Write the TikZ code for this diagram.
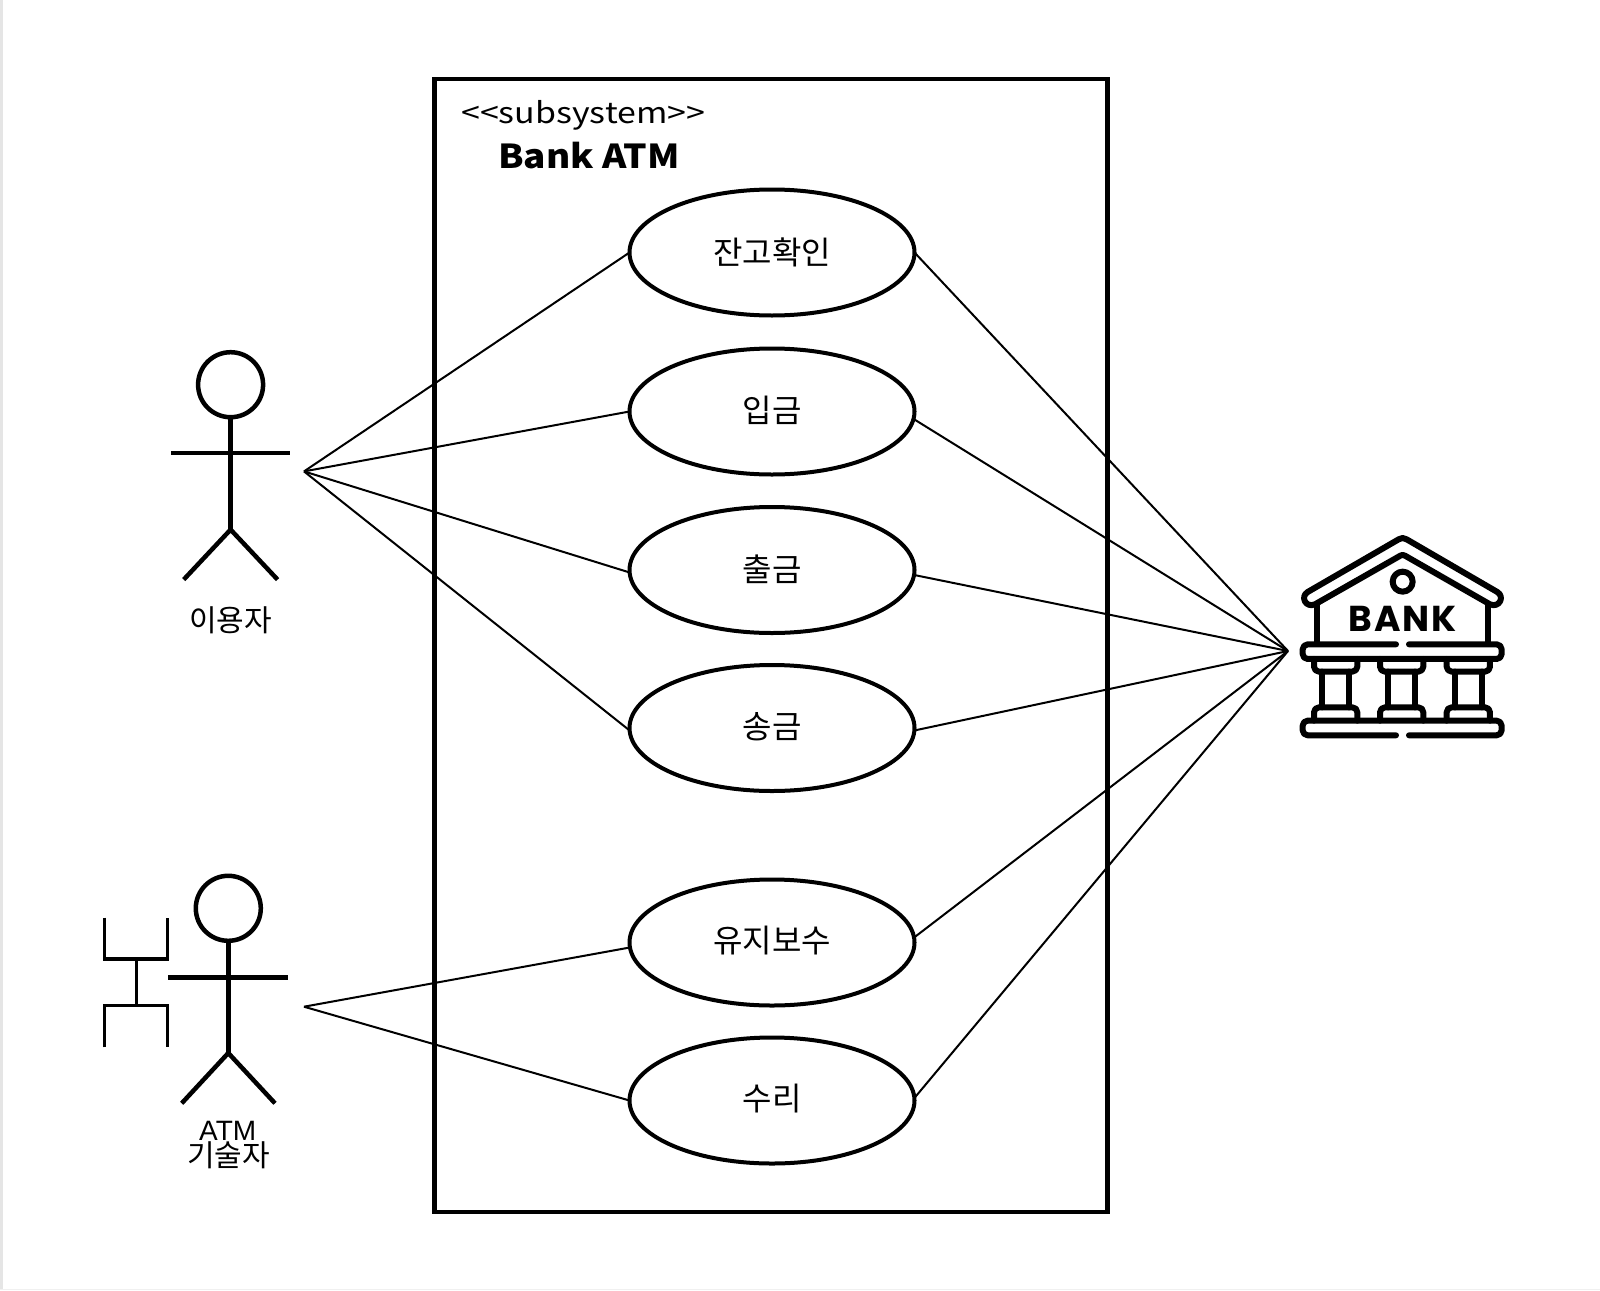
\documentclass[tikz,border=0pt]{standalone}
\usepackage{fontspec}
\usetikzlibrary{shapes.geometric}
\setmainfont{Noto Sans CJK KR}
\newfontfamily\latinf{Liberation Sans}
\newfontfamily\bankf[LetterSpace=5]{Poppins}
\newfontfamily\stereof[FakeStretch=1.17]{Noto Sans CJK KR}
\newfontfamily\titlef[FakeStretch=1.12]{Noto Sans CJK KR}
\tikzset{
 x=1pt,y=-1pt,
 usecase/.style={draw=black,line width=4pt,fill=white,ellipse,minimum width=285pt,minimum height=126pt,inner sep=0pt,outer sep=0pt},
 assoc/.style={draw=black,line width=2pt,line join=miter},
 actorline/.style={draw=black,line width=4.5pt},
 iconline/.style={draw=black,line width=6pt,line cap=round,line join=round,rounded corners=5pt},
 uclabel/.style={font=\fontsize{32}{36}\selectfont},
 actorlabel/.style={font=\fontsize{30}{34}\selectfont,inner sep=0pt},
}
\begin{document}
\begin{tikzpicture}
\useasboundingbox (0,0) rectangle (1600,1290);
\fill[white] (0,0) rectangle (1600,1290);
\fill[black!10] (0,0) rectangle (3,1290);
\fill[black!6] (0,1289) rectangle (1600,1290);
% system box
\node[draw=black,line width=4.4pt,minimum width=673pt,minimum height=1133pt,inner sep=0pt,outer sep=0pt] (sys) at (771,645.5) {};
\node[anchor=west,inner sep=0pt,font=\fontsize{29}{34}\selectfont\stereof] (st) at (461,115) {{<}{<}subsystem{>}{>}};
\node[anchor=west,inner sep=0pt,font=\fontsize{33}{38}\selectfont\titlef\bfseries] (sn) at (498,156) {Bank ATM};
% use cases
\node[usecase] (e1) at (772,252.5) {};
\node[usecase] (e2) at (772,411.5) {};
\node[usecase] (e3) at (772,570) {};
\node[usecase] (e4) at (772,728) {};
\node[usecase] (e5) at (772,942.5) {};
\node[usecase] (e6) at (772,1100.5) {};
\node[uclabel] (t1) at (772,252) {잔고확인};
\node[uclabel] (t2) at (772,410) {입금};
\node[uclabel] (t3) at (772,569) {출금};
\node[uclabel] (t4) at (772,727) {송금};
\node[uclabel] (t5) at (772,941) {유지보수};
\node[uclabel] (t6) at (772,1099) {수리};
% free ends
\coordinate (u1) at (304,471.4);
\coordinate (u2) at (304,1006.7);
\coordinate (bk) at (1288,651);
% connectors
\draw[assoc] (u1) -- (e1.west);
\draw[assoc] (u1) -- (e2.west);
\draw[assoc] (u1) -- (e3.181);
\draw[assoc] (u1) -- (e4.181);
\draw[assoc] (u2) -- (e5.182);
\draw[assoc] (u2) -- (e6.west);
\draw[assoc] (bk) -- (e1.east);
\draw[assoc] (bk) -- (e2.-3);
\draw[assoc] (bk) -- (e3.-2);
\draw[assoc] (bk) -- (e4.-1);
\draw[assoc] (bk) -- (e5.2);
\draw[assoc] (bk) -- (e6.1.5);
% actor 1
\node[circle,draw=black,line width=4.5pt,minimum size=65pt,inner sep=0pt,outer sep=0pt] (h1) at (230.6,384.7) {};
\coordinate (hip1) at (230.6,529.6);
\coordinate (la1) at (171,453);
\coordinate (ra1) at (290,453);
\coordinate (ll1) at (183.7,579.6);
\coordinate (rl1) at (277.6,579.6);
\draw[actorline] (h1.south) -- (hip1);
\draw[actorline] (la1) -- (ra1);
\draw[actorline] (ll1) -- (hip1) -- (rl1);
\node[actorlabel] (l1) at (230.6,620) {이용자};
% actor 2
\node[circle,draw=black,line width=4.5pt,minimum size=65pt,inner sep=0pt,outer sep=0pt] (h2) at (228.3,908.3) {};
\coordinate (hip2) at (228.3,1053);
\coordinate (la2) at (168.3,977.3);
\coordinate (ra2) at (287.7,977.3);
\coordinate (ll2) at (181.7,1103.3);
\coordinate (rl2) at (275,1103.3);
\draw[actorline] (h2.south) -- (hip2);
\draw[actorline] (la2) -- (ra2);
\draw[actorline] (ll2) -- (hip2) -- (rl2);
\node[inner sep=0pt,font=\fontsize{28}{30}\selectfont\latinf] (l2a) at (227.7,1131) {ATM};
\node[actorlabel] (l2b) at (228.5,1155) {기술자};
% tool
\draw[draw=black,line width=3.5pt]
  (104.3,917.7) -- (104.3,959) -- (167.7,959) -- (167.7,917.7)
  (136.7,959) -- (136.7,1005.7)
  (104.3,1047.3) -- (104.3,1005.7) -- (167.7,1005.7) -- (167.7,1047.3);
% bank icon (coordinates in 3x crop units)
\begin{scope}[shift={(1260,510)},x=0.3333pt,y=-0.3333pt]
 \draw[iconline,rounded corners=0pt] (428,84) .. controls (432,84) and (436,86) .. (440,88) -- (712,246)
   .. controls (735,260) and (718,295) .. (690,283) -- (435,137) .. controls (430,134) and (426,134) .. (421,137)
   -- (165,283) .. controls (137,295) and (120,260) .. (143,246) -- (416,88) .. controls (420,86) and (424,84) .. (428,84) -- cycle;
 \draw[iconline] (170,287) -- (170,400) (685,287) -- (685,400);
 \draw[iconline] (428,215) circle[radius=30];
 \draw[iconline] (408,403) -- (128,403) -- (128,447) -- (725,447) -- (725,403) -- (447,403);
 \draw[iconline] (408,676) -- (128,676) -- (128,632) -- (725,632) -- (725,676) -- (447,676);
 \foreach \c in {227,425,625}{
  \draw[iconline] (\c-65,447) -- (\c-65,485) -- (\c+65,485) -- (\c+65,447);
  \draw[iconline] (\c-65,632) -- (\c-65,592) -- (\c+65,592) -- (\c+65,632);
  \draw[iconline] (\c-40,485) -- (\c-40,592) (\c+40,485) -- (\c+40,592);
 }
\end{scope}
\node[inner sep=0pt,font=\fontsize{36}{42}\selectfont\bankf\bfseries] (bt) at (1402.5,618.5) {BANK};
\end{tikzpicture}
\end{document}
